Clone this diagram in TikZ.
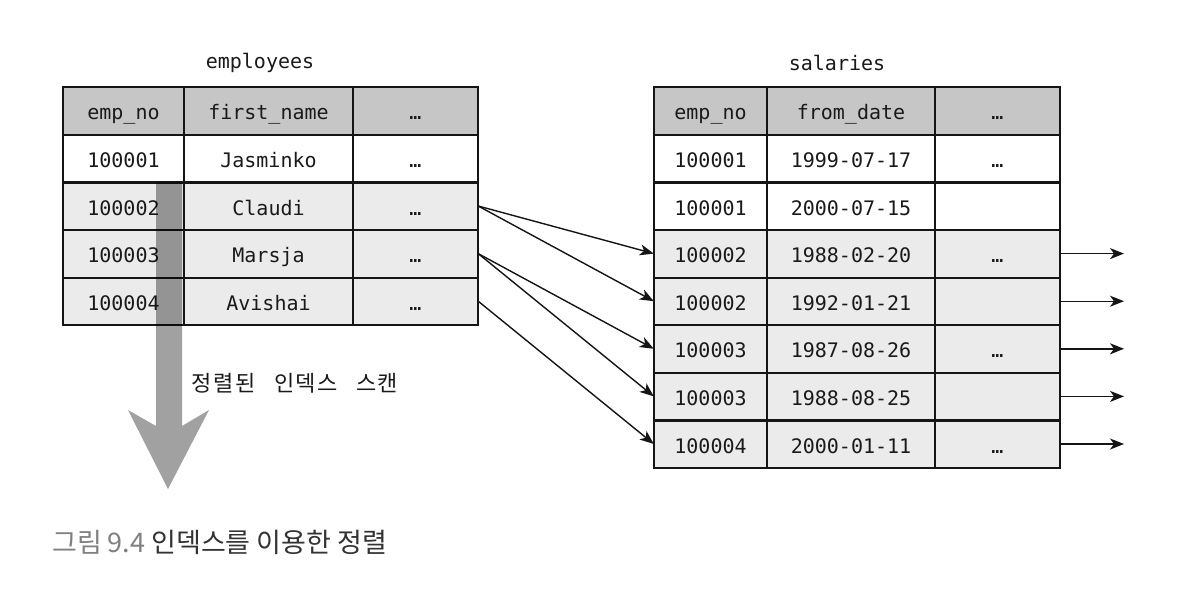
\documentclass[tikz,border=0pt]{standalone}
\usepackage{fontspec}
\usepackage{tikz}
\usetikzlibrary{arrows.meta}
\setmonofont{DejaVu Sans Mono}
\newfontfamily\krfont[WordSpace=3,LetterSpace=6]{Noto Sans CJK KR}
\newfontfamily\capfont{Noto Sans CJK KR}
\newcommand{\uscore}{\char`\_}
\definecolor{headgray}{HTML}{C6C6C6}
\definecolor{rowgray}{HTML}{EBEBEB}
\definecolor{linegray}{HTML}{151515}
\definecolor{txtgray}{HTML}{1A1A1A}
\definecolor{capgray}{HTML}{808080}
\definecolor{capdark}{HTML}{333333}

\begin{document}
\begin{tikzpicture}[x=1pt, y=-1pt,
  cell/.style={inner sep=0pt, minimum height=47.6pt,
    text height=18pt, text depth=0pt, text=txtgray, font=\ttfamily\fontsize{20}{20}\selectfont},
  headcell/.style={cell, fill=headgray},
  whitecell/.style={cell, fill=white},
  graycell/.style={cell, fill=rowgray},
  ecol1/.style={minimum width=121pt}, ecol2/.style={minimum width=169pt}, ecol3/.style={minimum width=125pt},
  scol1/.style={minimum width=113pt}, scol2/.style={minimum width=168pt}, scol3/.style={minimum width=125pt},
  grid/.style={draw=linegray, line width=2.2pt, line cap=rect},
  title/.style={text=txtgray, font=\ttfamily\fontsize{20}{20}\selectfont},
  link/.style={draw=linegray, line width=1.4pt, -{Stealth[length=14pt, width=11pt, inset=4pt]}}]

\useasboundingbox[fill=white] (0,0) rectangle (1186,608);

% employees
\node[title] (etitle) at (260,63) {employees};
\node[headcell, ecol1] (eh1) at (123.5,110.8) {emp\uscore no};
\node[headcell, ecol2] (eh2) at (268.5,110.8) {first\uscore name};
\node[headcell, ecol3] (eh3) at (415.5,110.8) {…};
\node[whitecell, ecol1] (e11) at (123.5,158.4) {100001};
\node[whitecell, ecol2] (e12) at (268.5,158.4) {Jasminko};
\node[whitecell, ecol3] (e13) at (415.5,158.4) {…};
\node[graycell, ecol1] (e21) at (123.5,206.0) {100002};
\node[graycell, ecol2] (e22) at (268.5,206.0) {Claudi};
\node[graycell, ecol3] (e23) at (415.5,206.0) {…};
\node[graycell, ecol1] (e31) at (123.5,253.6) {100003};
\node[graycell, ecol2] (e32) at (268.5,253.6) {Marsja};
\node[graycell, ecol3] (e33) at (415.5,253.6) {…};
\node[graycell, ecol1] (e41) at (123.5,301.2) {100004};
\node[graycell, ecol2] (e42) at (268.5,301.2) {Avishai};
\node[graycell, ecol3] (e43) at (415.5,301.2) {…};

\draw[grid] (eh1.north west) rectangle (e43.south east);
\draw[grid] (eh1.north east) -- (e41.south east);
\draw[grid] (eh2.north east) -- (e42.south east);
\draw[grid] (eh1.south west) -- (eh3.south east);
\draw[grid] (e11.south west) -- (e13.south east);
\draw[grid] (e21.south west) -- (e23.south east);
\draw[grid] (e31.south west) -- (e33.south east);

% salaries
\node[title] (stitle) at (837,63) {salaries};
\node[headcell, scol1] (sh1) at (710.5,110.8) {emp\uscore no};
\node[headcell, scol2] (sh2) at (851,110.8) {from\uscore date};
\node[headcell, scol3] (sh3) at (997.5,110.8) {…};
\node[whitecell, scol1] (s11) at (710.5,158.4) {100001};
\node[whitecell, scol2] (s12) at (851,158.4) {1999-07-17};
\node[whitecell, scol3] (s13) at (997.5,158.4) {…};
\node[whitecell, scol1] (s21) at (710.5,206.0) {100001};
\node[whitecell, scol2] (s22) at (851,206.0) {2000-07-15};
\node[whitecell, scol3] (s23) at (997.5,206.0) {};
\node[graycell, scol1] (s31) at (710.5,253.6) {100002};
\node[graycell, scol2] (s32) at (851,253.6) {1988-02-20};
\node[graycell, scol3] (s33) at (997.5,253.6) {…};
\node[graycell, scol1] (s41) at (710.5,301.2) {100002};
\node[graycell, scol2] (s42) at (851,301.2) {1992-01-21};
\node[graycell, scol3] (s43) at (997.5,301.2) {};
\node[graycell, scol1] (s51) at (710.5,348.8) {100003};
\node[graycell, scol2] (s52) at (851,348.8) {1987-08-26};
\node[graycell, scol3] (s53) at (997.5,348.8) {…};
\node[graycell, scol1] (s61) at (710.5,396.4) {100003};
\node[graycell, scol2] (s62) at (851,396.4) {1988-08-25};
\node[graycell, scol3] (s63) at (997.5,396.4) {};
\node[graycell, scol1] (s71) at (710.5,444.0) {100004};
\node[graycell, scol2] (s72) at (851,444.0) {2000-01-11};
\node[graycell, scol3] (s73) at (997.5,444.0) {…};

\draw[grid] (sh1.north west) rectangle (s73.south east);
\draw[grid] (sh1.north east) -- (s71.south east);
\draw[grid] (sh2.north east) -- (s72.south east);
\draw[grid] (sh1.south west) -- (sh3.south east);
\draw[grid] (s11.south west) -- (s13.south east);
\draw[grid] (s21.south west) -- (s23.south east);
\draw[grid] (s31.south west) -- (s33.south east);
\draw[grid] (s41.south west) -- (s43.south east);
\draw[grid] (s51.south west) -- (s53.south east);
\draw[grid] (s61.south west) -- (s63.south east);

% index scan arrow
\fill[black, fill opacity=0.37] (156,182) -- (156,426) -- (128,410) -- (168,489)
  -- (209,410) -- (182,426) -- (182,182) -- cycle;
\node[text=txtgray, font=\krfont\fontsize{22}{22}\selectfont] (scan) at (295,383) {정렬된 인덱스 스캔};

% lookups
\draw[link] (e23.east) -- (s31.west);
\draw[link] (e23.east) -- (s41.west);
\draw[link] (e33.east) -- (s51.west);
\draw[link] (e33.east) -- (s61.west);
\draw[link] (e43.east) -- (s71.west);

\coordinate (o3) at (1124,253.6);
\coordinate (o4) at (1124,301.2);
\coordinate (o5) at (1124,348.8);
\coordinate (o6) at (1124,396.4);
\coordinate (o7) at (1124,444.0);
\draw[link] (s33.east) -- (o3);
\draw[link] (s43.east) -- (o4);
\draw[link] (s53.east) -- (o5);
\draw[link] (s63.east) -- (o6);
\draw[link] (s73.east) -- (o7);

\node[anchor=west, inner sep=0pt, font=\capfont\fontsize{27}{27}\selectfont] (caption) at (52,542)
  {\textcolor{capgray}{그림 9.4} \textcolor{capdark}{인덱스를 이용한 정렬}};

\end{tikzpicture}
\end{document}
